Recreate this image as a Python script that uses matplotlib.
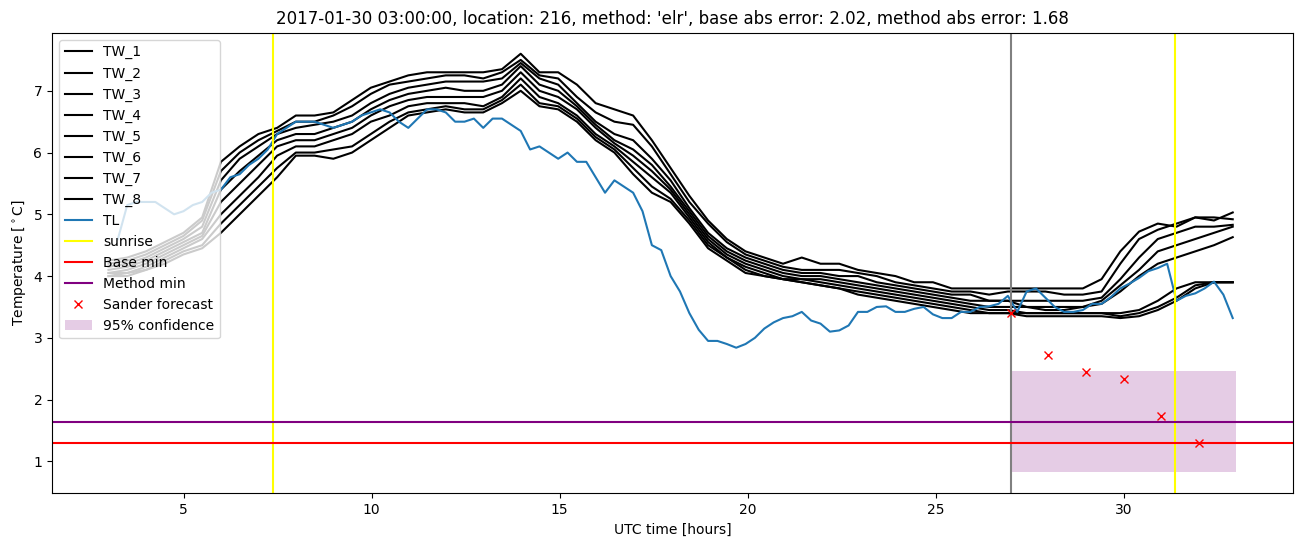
import matplotlib

matplotlib.use("Agg")
import matplotlib.pyplot as plt
import numpy as np

# wall temperatures TW_1..TW_8, half-hourly from 03:00 to ~32.9 h
tw_hours = np.linspace(3.0, 32.9, 61)
tw_1 = [4.25, 4.3, 4.4, 4.55, 4.7, 4.95, 5.85, 6.1, 6.3, 6.4,
        6.6, 6.6, 6.65, 6.85, 7.05, 7.15, 7.25, 7.3, 7.3, 7.3,
        7.3, 7.35, 7.6, 7.3, 7.3, 7.1, 6.8, 6.7, 6.6, 6.2,
        5.75, 5.3, 4.9, 4.6, 4.4, 4.3, 4.2, 4.3, 4.2, 4.2,
        4.1, 4.05, 4.0, 3.9, 3.9, 3.8, 3.8, 3.8, 3.8, 3.8,
        3.8, 3.8, 3.8, 3.95, 4.4, 4.72, 4.85, 4.8, 4.95, 4.95,
        4.92]
tw_2 = [4.2, 4.25, 4.35, 4.5, 4.65, 4.9, 5.7, 6.0, 6.2, 6.35,
        6.5, 6.5, 6.6, 6.75, 6.95, 7.1, 7.15, 7.2, 7.25, 7.25,
        7.2, 7.3, 7.5, 7.25, 7.2, 6.9, 6.65, 6.5, 6.45, 6.1,
        5.65, 5.2, 4.85, 4.55, 4.35, 4.25, 4.15, 4.1, 4.1, 4.1,
        4.05, 4.0, 3.9, 3.85, 3.8, 3.75, 3.75, 3.7, 3.75, 3.75,
        3.75, 3.7, 3.7, 3.75, 4.2, 4.6, 4.75, 4.85, 4.95, 4.9,
        5.03]
tw_3 = [4.15, 4.2, 4.3, 4.45, 4.6, 4.8, 5.55, 5.9, 6.1, 6.3,
        6.4, 6.45, 6.5, 6.6, 6.8, 6.95, 7.05, 7.1, 7.15, 7.15,
        7.15, 7.2, 7.45, 7.2, 7.1, 6.8, 6.5, 6.3, 6.2, 5.9,
        5.55, 5.1, 4.7, 4.45, 4.3, 4.2, 4.1, 4.05, 4.05, 4.0,
        4.0, 3.9, 3.85, 3.8, 3.75, 3.7, 3.7, 3.6, 3.6, 3.6,
        3.6, 3.6, 3.6, 3.65, 3.95, 4.3, 4.6, 4.7, 4.8, 4.8,
        4.83]
tw_4 = [4.1, 4.15, 4.25, 4.4, 4.55, 4.7, 5.4, 5.7, 5.95, 6.2,
        6.3, 6.3, 6.4, 6.5, 6.7, 6.85, 6.95, 7.0, 7.05, 7.0,
        7.0, 7.1, 7.4, 7.1, 7.0, 6.75, 6.45, 6.2, 6.05, 5.8,
        5.45, 5.05, 4.65, 4.4, 4.25, 4.15, 4.05, 4.0, 4.0, 3.95,
        3.9, 3.85, 3.8, 3.75, 3.7, 3.65, 3.6, 3.6, 3.6, 3.5,
        3.5, 3.5, 3.5, 3.6, 3.85, 4.1, 4.4, 4.5, 4.6, 4.7,
        4.8]
tw_5 = [4.05, 4.1, 4.2, 4.35, 4.5, 4.65, 5.2, 5.5, 5.8, 6.1,
        6.2, 6.2, 6.3, 6.4, 6.6, 6.75, 6.85, 6.9, 6.9, 6.9,
        6.9, 7.0, 7.3, 7.0, 6.9, 6.7, 6.4, 6.15, 5.95, 5.7,
        5.4, 5.0, 4.6, 4.35, 4.2, 4.1, 4.0, 3.95, 3.95, 3.9,
        3.85, 3.8, 3.75, 3.7, 3.65, 3.6, 3.55, 3.5, 3.5, 3.5,
        3.45, 3.45, 3.5, 3.55, 3.75, 4.0, 4.2, 4.3, 4.4, 4.5,
        4.63]
tw_6 = [4.05, 4.05, 4.15, 4.3, 4.45, 4.6, 5.0, 5.3, 5.6, 5.95,
        6.1, 6.1, 6.2, 6.3, 6.5, 6.6, 6.75, 6.8, 6.8, 6.8,
        6.75, 6.9, 7.2, 6.9, 6.8, 6.6, 6.3, 6.1, 5.85, 5.6,
        5.35, 4.95, 4.55, 4.3, 4.15, 4.05, 3.95, 3.95, 3.9, 3.85,
        3.8, 3.75, 3.7, 3.65, 3.6, 3.55, 3.5, 3.45, 3.45, 3.4,
        3.4, 3.4, 3.4, 3.4, 3.4, 3.45, 3.6, 3.8, 3.9, 3.9,
        3.9]
tw_7 = [4.0, 4.05, 4.1, 4.25, 4.4, 4.5, 4.85, 5.15, 5.45, 5.75,
        6.0, 6.0, 6.05, 6.1, 6.3, 6.5, 6.65, 6.7, 6.75, 6.7,
        6.7, 6.85, 7.1, 6.8, 6.75, 6.55, 6.25, 6.05, 5.75, 5.45,
        5.25, 4.9, 4.5, 4.3, 4.1, 4.0, 3.95, 3.9, 3.85, 3.8,
        3.75, 3.7, 3.65, 3.6, 3.55, 3.5, 3.45, 3.4, 3.4, 3.4,
        3.4, 3.4, 3.4, 3.4, 3.35, 3.4, 3.5, 3.65, 3.85, 3.9,
        3.9]
tw_8 = [4.0, 4.0, 4.1, 4.2, 4.35, 4.45, 4.7, 5.0, 5.3, 5.6,
        5.95, 5.95, 5.9, 6.0, 6.2, 6.4, 6.6, 6.65, 6.7, 6.65,
        6.65, 6.8, 7.0, 6.75, 6.7, 6.5, 6.2, 6.0, 5.65, 5.35,
        5.2, 4.85, 4.45, 4.25, 4.05, 4.0, 3.95, 3.9, 3.85, 3.8,
        3.7, 3.65, 3.6, 3.55, 3.5, 3.45, 3.4, 3.4, 3.4, 3.35,
        3.35, 3.35, 3.35, 3.35, 3.32, 3.35, 3.45, 3.6, 3.8, 3.9,
        3.9]
tw_series = [tw_1, tw_2, tw_3, tw_4, tw_5, tw_6, tw_7, tw_8]

# air temperature TL, quarter-hourly
tl_hours = np.linspace(3.25, 32.9, 120)
tl = [4.6, 5.15, 5.2, 5.2, 5.2, 5.1, 5.0, 5.05, 5.15, 5.2,
      5.35, 5.4, 5.6, 5.65, 5.8, 5.9, 6.05, 6.3, 6.4, 6.5,
      6.5, 6.5, 6.45, 6.4, 6.45, 6.5, 6.6, 6.65, 6.7, 6.65,
      6.5, 6.4, 6.55, 6.7, 6.7, 6.65, 6.5, 6.5, 6.55, 6.4,
      6.55, 6.55, 6.45, 6.35, 6.05, 6.1, 6.0, 5.9, 6.0, 5.85,
      5.85, 5.6, 5.35, 5.55, 5.45, 5.35, 5.05, 4.5, 4.42, 4.0,
      3.75, 3.4, 3.13, 2.95, 2.95, 2.9, 2.84, 2.9, 3.0, 3.15,
      3.25, 3.32, 3.35, 3.42, 3.28, 3.23, 3.1, 3.12, 3.2, 3.42,
      3.42, 3.5, 3.51, 3.42, 3.42, 3.47, 3.5, 3.38, 3.32, 3.32,
      3.42, 3.42, 3.5, 3.51, 3.55, 3.68, 3.42, 3.75, 3.8, 3.65,
      3.5, 3.42, 3.42, 3.45, 3.55, 3.55, 3.66, 3.8, 3.88, 3.97,
      4.08, 4.13, 4.2, 3.6, 3.68, 3.72, 3.8, 3.91, 3.7, 3.32]

sunrise_hours = [7.38, 31.37]
forecast_start = 27.0
base_min = 1.30
method_min = 1.64
sander_hours = [27, 28, 29, 30, 31, 32]
sander_values = [3.41, 2.72, 2.44, 2.33, 1.74, 1.29]
conf_hours = [27.0, 33.0]
conf_low = 0.82
conf_high = 2.46

title = ("2017-01-30 03:00:00, location: 216, method: 'elr', "
         "base abs error: 2.02, method abs error: 1.68")

fig, ax = plt.subplots(figsize=(13.02, 5.47), dpi=100)
fig.subplots_adjust(left=0.040, right=0.993, bottom=0.098, top=0.940)

for i, values in enumerate(tw_series):
    ax.plot(tw_hours, values, color="black", label=f"TW_{i + 1}")
ax.plot(tl_hours, tl, color="tab:blue", label="TL")

ax.axvline(sunrise_hours[0], color="yellow", label="sunrise")
ax.axvline(sunrise_hours[1], color="yellow")
ax.axvline(forecast_start, color="grey")
ax.axhline(base_min, color="red", label="Base min")
ax.axhline(method_min, color="purple", label="Method min")
ax.plot(sander_hours, sander_values, "x", color="red", label="Sander forecast")
ax.fill_between(conf_hours, conf_low, conf_high, color="purple", alpha=0.2,
                linewidth=0, label="95% confidence")

ax.set_title(title)
ax.set_xlabel("UTC time [hours]")
ax.set_ylabel(r"Temperature [$^\circ$C]")
ax.legend(loc="upper left")

plt.savefig("out.png", dpi=100)
